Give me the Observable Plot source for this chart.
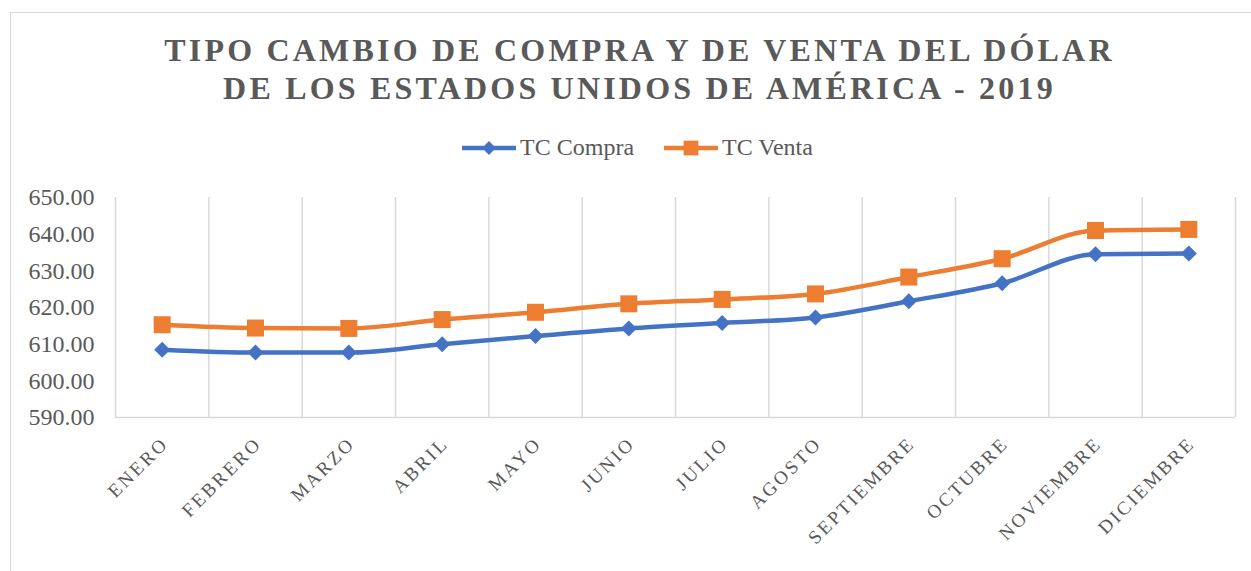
<!DOCTYPE html>
<html>
<head>
<meta charset="utf-8">
<script src="https://cdn.jsdelivr.net/npm/d3@7"></script>
<script src="https://cdn.jsdelivr.net/npm/@observablehq/plot@0.6"></script>
<style>
  html, body { margin: 0; padding: 0; background: #fff; width: 1251px; height: 571px; overflow: hidden; }
  #wrap { position: relative; width: 1251px; height: 571px; }
  #border { position: absolute; left: 10px; top: 12px; width: 1300px; height: 700px; border: 1.5px solid #d9d9d9; box-sizing: border-box; }
  #title { position: absolute; left: 14px; top: 31px; width: 1251px; text-align: center; font-family: "Liberation Serif", "Times New Roman", serif; font-weight: bold; font-size: 32px; line-height: 38px; letter-spacing: 3.2px; color: #595959; }
  #legend { position: absolute; left: 12px; top: 134px; width: 1251px; display: flex; justify-content: center; align-items: center; font-family: "Liberation Serif", "Times New Roman", serif; font-size: 24px; color: #595959; }
  #legend .item { display: flex; align-items: center; margin: 0 15px; }
  #legend svg { margin-right: 4px; }
  #chart { position: absolute; left: 0; top: 170px; }
</style>
</head>
<body>
<div id="wrap">
  <div id="border"></div>
  <div id="title">TIPO CAMBIO DE COMPRA Y DE VENTA DEL DÓLAR<br>DE LOS ESTADOS UNIDOS DE AMÉRICA - 2019</div>
  <div id="legend"></div>
  <div id="chart"></div>
</div>
<script>
const months = ["ENERO","FEBRERO","MARZO","ABRIL","MAYO","JUNIO","JULIO","AGOSTO","SEPTIEMBRE","OCTUBRE","NOVIEMBRE","DICIEMBRE"];
const compra = [608.5, 607.7, 607.7, 610.0, 612.2, 614.3, 615.8, 617.3, 621.7, 626.6, 634.5, 634.7];
const venta  = [615.3, 614.4, 614.3, 616.7, 618.7, 621.0, 622.2, 623.7, 628.3, 633.3, 641.0, 641.3];
const seriesNames = ["TC Compra", "TC Venta"];
const seriesColors = ["#4472C4", "#ED7D31"];
const yTicks = [590, 600, 610, 620, 630, 640, 650];

const compraData = months.map((m, i) => ({i, month: m, value: compra[i], series: seriesNames[0]}));
const ventaData = months.map((m, i) => ({i, month: m, value: venta[i], series: seriesNames[1]}));
const data = compraData.concat(ventaData);
const boundaries = d3.range(months.length + 1).map(k => k - 0.5);

const svg = Plot.plot({
  width: 1251,
  height: 401,
  marginLeft: 115,
  marginRight: 16,
  marginTop: 27,
  marginBottom: 154,
  style: { fontFamily: "'Liberation Serif', 'Times New Roman', serif", fontSize: "24px", color: "#595959", background: "transparent" },
  x: { type: "linear", domain: [-0.5, months.length - 0.5], axis: null },
  y: { domain: [590, 650], label: null },
  color: { domain: seriesNames, range: seriesColors },
  marks: [
    Plot.ruleX(boundaries, { x: d => d, y1: 590, y2: 650, stroke: "#d9d9d9", strokeWidth: 1.5 }),
    Plot.ruleY([590], { x1: -0.5, x2: months.length - 0.5, stroke: "#d9d9d9", strokeWidth: 1.5 }),
    Plot.axisY({ ticks: yTicks, tickFormat: d => d.toFixed(2), tickSize: 0, tickPadding: 21, fill: "#595959", label: null }),
    Plot.line(data, { x: "i", y: "value", z: "series", stroke: "series", strokeWidth: 4.5, curve: "monotone-x" }),
    Plot.dot(compraData, { x: "i", y: "value", symbol: "diamond2", fill: "series", stroke: "none", r: 7.2 }),
    Plot.dot(ventaData, { x: "i", y: "value", symbol: "square", fill: "series", stroke: "none", r: 9.6 }),
    Plot.text(months, { x: (d, i) => i, y: () => 590, text: d => d, dx: 3, dy: 23, rotate: -45, textAnchor: "end", lineAnchor: "middle", fontSize: 19, fill: "#595959" })
  ]
});
d3.select(svg).selectAll("text").filter(function() { return months.includes(this.textContent); }).style("letter-spacing", "2.6px");
document.getElementById("chart").appendChild(svg);

// legend
const legend = d3.select("#legend");
seriesNames.forEach((name, k) => {
  const item = legend.append("div").attr("class", "item");
  const s = item.append("svg").attr("width", 54).attr("height", 22);
  s.append("line").attr("x1", 0).attr("x2", 54).attr("y1", 11).attr("y2", 11).attr("stroke", seriesColors[k]).attr("stroke-width", 4.5);
  const sym = d3.symbol(k === 0 ? d3.symbolDiamond2 : d3.symbolSquare, Math.PI * (k === 0 ? 7.2 : 9.6) ** 2 * 0.75);
  s.append("path").attr("d", sym()).attr("transform", "translate(27,11)").attr("fill", seriesColors[k]);
  item.append("span").text(name);
});
</script>
</body>
</html>
